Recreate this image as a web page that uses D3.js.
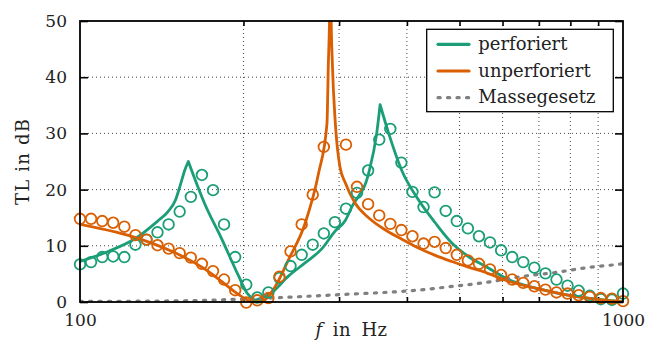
<!DOCTYPE html>
<html lang="de">
  <head>
    <title>Transmission Loss</title>
    <script src="https://d3js.org/d3.v7.min.js"></script>
    <style>
      body { margin: 0; background: #fff; }
      svg text { font-family: "DejaVu Serif", serif; fill: #222; }
      .grid line { stroke: #333; stroke-width: 0.9; stroke-dasharray: 1 3; }
      .tick line { stroke: #000; stroke-width: 1.6; }
    </style>
  </head>
  <body>
    <svg width="660" height="340"></svg>

    <script>
      // measurement frequencies (Hz) for the circle markers
      var measFreq = [100, 104.8, 109.9, 115.1, 120.7, 126.5, 132.6, 138.9, 145.6, 152.6,
                      160.0, 167.7, 175.8, 184.2, 193.1, 202.4, 212.1, 222.3, 233.0, 244.2,
                      256.0, 268.3, 281.2, 294.7, 308.9, 323.7, 339.3, 355.7, 372.8, 390.7,
                      409.5, 429.2, 449.8, 471.5, 494.2, 518.0, 542.9, 569.0, 596.4, 625.1,
                      655.1, 686.7, 719.7, 754.3, 790.6, 828.6, 868.5, 910.3, 954.1, 1000];
      var measPerf = [6.7, 7.1, 8.0, 8.1, 8.0, 10.2, 11.1, 12.4, 13.8, 16.1,
                      18.7, 22.6, 19.9, 13.8, 8.0, 3.1, 0.8, 1.7, 4.3, 6.4,
                      8.4, 10.2, 12.2, 14.2, 16.6, 19.4, 23.4, 28.9, 30.8, 24.8,
                      19.6, 16.9, 19.5, 16.2, 14.4, 13.1, 11.7, 10.6, 9.2, 8.0,
                      7.1, 6.1, 5.1, 4.0, 2.9, 2.0, 1.1, 0.5, 0.4, 1.5];
      var measUnperf = [14.8, 14.8, 14.4, 14.1, 13.4, 11.9, 11.1, 10.1, 9.5, 8.7,
                        7.9, 6.8, 5.5, 4.0, 2.1, -0.1, 0.3, 0.7, 4.5, 9.0,
                        13.8, 19.1, 27.6, null, 28.0, 20.5, 17.4, 15.4, 13.9, 12.8,
                        11.7, 10.4, 10.7, 9.6, 8.4, 7.4, 6.8, 5.8, 4.8, 4.0,
                        3.4, 2.8, 2.2, 1.7, 1.5, 1.2, 0.9, 0.7, 0.6, 0.15];

      // model curve "perforiert"
      var perfFreq = [100, 112.7, 126, 139, 145, 150, 153, 156, 158.3, 170, 182, 196, 203, 210,
                      225, 242, 260, 279, 295, 308, 317, 340, 352, 357, 370, 391, 420,
                      451, 484, 519, 557, 615, 709, 816, 940, 1000];
      var perfTL = [7.2, 9.0, 11.2, 14.4, 16.0, 18.2, 20.8, 23.5, 25.0, 17.3, 11.4, 4.6, 1.6, 0.3,
                    1.6, 4.6, 7.0, 9.5, 12.6, 14.5, 17.0, 22.9, 30.1, 35.1, 30.1, 23.5, 18.2,
                    14.1, 10.5, 8.1, 6.4, 4.0, 2.2, 1.0, 0.3, 0.1];

      // model curve "unperforiert"
      var unperfFreq = [100, 130, 150, 172, 182, 196, 206, 216, 229, 242, 260, 275, 285,
                        286.6, 288.2, 288.9, 289.9, 291.7, 295, 301, 308, 321, 340, 364,
                        391, 420, 451, 484, 519, 557, 615, 709, 816, 1000];
      var unperfTL = [13.8, 11.1, 8.7, 5.5, 3.7, 1.3, 0, 0.1, 2.8, 7.5, 14.1, 22.9, 31.8,
                      42, 52, 70, 52, 42, 32.4, 24.1, 21.2, 17.6, 15.0, 12.9,
                      11.2, 9.6, 8.3, 7.2, 6.2, 5.3, 3.7, 2.2, 1.0, 0];

      // mass law
      var massFreq = [100, 150, 203, 299, 429, 487, 561, 646, 744, 857, 980, 1000];
      var massTL = [0.1, 0.2, 0.55, 1.3, 2.2, 2.8, 3.5, 4.5, 5.2, 6.1, 6.7, 6.8];

      var legendNames = ["perforiert", "unperforiert", "Massegesetz"];
      var yTicks = [0, 10, 20, 30, 40, 50];
      var xMajor = [100, 1000];
      var xMinor = [200, 300, 400, 500, 600, 700, 800, 900];

      var green = "#1b9e77", orange = "#d95f02", grey = "#808080";

      var svg = d3.select("svg");
      var pL = 80, pR = 623, pT = 21, pB = 302;

      var x = d3.scaleLog().domain([100, 1000]).range([pL, pR]);
      var y = d3.scaleLinear().domain([0, 50]).range([pB, pT]);

      svg.append("clipPath").attr("id", "plotclip")
         .append("rect").attr("x", pL).attr("y", pT)
         .attr("width", pR - pL).attr("height", pB - pT);

      // grid
      var grid = svg.append("g").attr("class", "grid");
      grid.selectAll("line.v").data(xMinor).enter().append("line")
          .attr("x1", function(d){return x(d);}).attr("x2", function(d){return x(d);})
          .attr("y1", pT).attr("y2", pB);
      grid.selectAll("line.h").data(yTicks.slice(1, -1)).enter().append("line")
          .attr("x1", pL).attr("x2", pR)
          .attr("y1", function(d){return y(d);}).attr("y2", function(d){return y(d);});

      // axes (ticks point inward)
      var axisFont = function(g) {
        g.select(".domain").remove();
        g.attr("font-family", null);
        g.selectAll("text").style("font-size", "17px").attr("fill", "#222");
      };
      svg.append("g").attr("transform", "translate(" + pL + ",0)")
         .call(d3.axisLeft(y).tickValues(yTicks).tickSize(-8).tickPadding(13)).call(axisFont);
      svg.append("g").attr("transform", "translate(" + pR + ",0)")
         .call(d3.axisRight(y).tickValues(yTicks).tickSize(-8).tickFormat("")).call(axisFont);
      svg.append("g").attr("transform", "translate(0," + pB + ")")
         .call(d3.axisBottom(x).tickValues(xMajor).tickSize(0).tickPadding(12)
               .tickFormat(d3.format("d"))).call(axisFont);
      svg.append("g").attr("transform", "translate(0," + pB + ")")
         .call(d3.axisBottom(x).tickValues(xMinor).tickSize(-5).tickFormat("")).call(axisFont);
      svg.append("g").attr("transform", "translate(0," + pT + ")")
         .call(d3.axisTop(x).tickValues(xMinor).tickSize(-5).tickFormat("")).call(axisFont);

      // curves: monotone pieces between extrema keep the resonance peaks sharp
      var plot = svg.append("g").attr("clip-path", "url(#plotclip)");
      function drawCurve(freqs, vals, color) {
        var pts = freqs.map(function(f, i){return [x(f), y(vals[i])];});
        var cuts = [0];
        for (var i = 1; i < vals.length - 1; i++) {
          if ((vals[i] - vals[i-1]) * (vals[i+1] - vals[i]) < 0) cuts.push(i);
        }
        cuts.push(vals.length - 1);
        var line = d3.line().curve(d3.curveMonotoneX);
        var d = "";
        for (var k = 0; k < cuts.length - 1; k++) {
          var seg = line(pts.slice(cuts[k], cuts[k+1] + 1));
          d += (k === 0) ? seg : "L" + seg.slice(1);
        }
        plot.append("path").attr("d", d)
            .attr("fill", "none").attr("stroke", color).attr("stroke-width", 2.8)
            .attr("stroke-linejoin", "round");
      }

      drawCurve(perfFreq, perfTL, green);

      var markers = svg.append("g");
      markers.selectAll("circle.p").data(measFreq).enter().append("circle")
             .attr("cx", function(d){return x(d);})
             .attr("cy", function(d, i){return y(measPerf[i]);})
             .attr("r", 5.3).attr("fill", "none").attr("stroke", green).attr("stroke-width", 1.8);

      drawCurve(unperfFreq, unperfTL, orange);

      markers.selectAll("circle.u").data(measFreq.filter(function(d, i){return measUnperf[i] !== null;}))
             .enter().append("circle")
             .attr("cx", function(d){return x(d);})
             .attr("cy", function(d){return y(measUnperf[measFreq.indexOf(d)]);})
             .attr("r", 5.3).attr("fill", "none").attr("stroke", orange).attr("stroke-width", 1.8);

      plot.append("path")
          .attr("d", d3.line().curve(d3.curveMonotoneX)
                       .x(function(d){return x(d);})
                       .y(function(d, i){return y(massTL[i]);})(massFreq))
          .attr("fill", "none").attr("stroke", grey).attr("stroke-width", 3.2)
          .attr("stroke-linecap", "round").attr("stroke-dasharray", "2.2 7.3");

      // frame
      svg.append("rect").attr("x", pL).attr("y", pT)
         .attr("width", pR - pL).attr("height", pB - pT)
         .attr("fill", "none").attr("stroke", "#000").attr("stroke-width", 1.8);

      // legend
      var lg = svg.append("g");
      lg.append("rect").attr("x", 426.7).attr("y", 29.3).attr("width", 186.6).attr("height", 82.4)
        .attr("fill", "#fff").attr("stroke", "#000").attr("stroke-width", 1.3);
      var legendColors = [green, orange, grey];
      legendNames.forEach(function(name, i) {
        var cy = 44.3 + i * 26.7;
        var ln = lg.append("line").attr("x1", 438).attr("x2", 469)
                   .attr("y1", cy).attr("y2", cy)
                   .attr("stroke", legendColors[i]).attr("stroke-width", 3.2)
                   .attr("stroke-linecap", "round");
        if (i === 2) ln.attr("stroke-dasharray", "2.2 7.3");
        lg.append("text").attr("x", 478.3).attr("y", cy + 5.6)
          .style("font-size", "18px").text(name);
      });

      // axis labels
      svg.append("text").attr("transform", "translate(28.5,161.5) rotate(-90)")
         .attr("text-anchor", "middle").style("font-size", "18px").style("letter-spacing", "1.2px")
         .text("TL in dB");
      var xl = svg.append("text").attr("x", 351.5).attr("y", 335.5)
                  .attr("text-anchor", "middle").style("font-size", "18px")
                  .style("word-spacing", "4px").style("letter-spacing", "0.5px");
      xl.append("tspan").style("font-style", "italic").text("f");
      xl.append("tspan").text(" in Hz");
    </script>
  </body>
</html>
